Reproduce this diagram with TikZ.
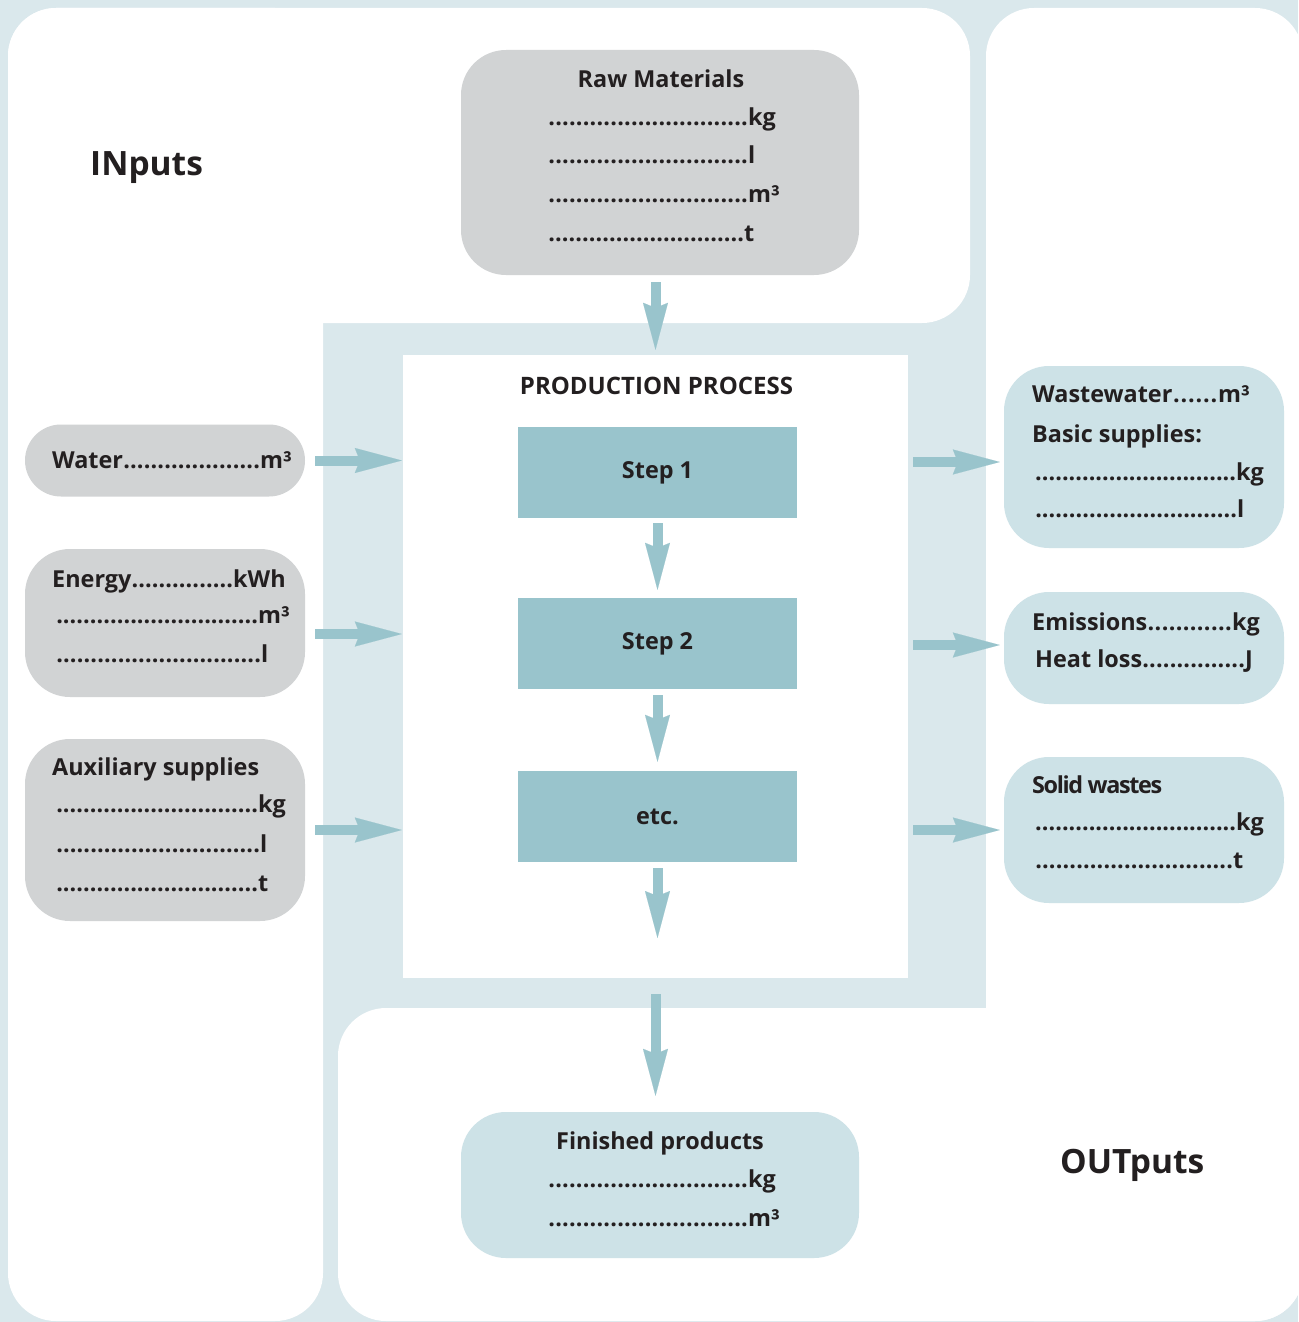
\documentclass[tikz,border=0pt]{standalone}
\usepackage{fontspec}
\setmainfont{Open Sans}
\usetikzlibrary{arrows.meta}
\definecolor{bgblue}{HTML}{DAE8EC}
\definecolor{greybox}{HTML}{D1D3D4}
\definecolor{outbox}{HTML}{CDE2E7}
\definecolor{stepblue}{HTML}{99C4CC}
\definecolor{ink}{HTML}{231F20}
\newcommand\lead[2]{\hbox to #1pt{#2\xleaders\hbox{.}\hfill}}
\tikzset{
  panel/.style={fill=white, rounded corners=48pt},
  gbox/.style={rectangle, fill=greybox, draw=none, inner sep=0pt},
  obox/.style={rectangle, fill=outbox, draw=none, inner sep=0pt},
  stepbox/.style={rectangle, fill=stepblue, draw=none, inner sep=0pt, minimum width=279pt, minimum height=91pt,
    font=\fontsize{23.4}{28}\selectfont\bfseries, text=ink},
  txt/.style={anchor=base west, inner sep=0pt, font=\fontsize{23.4}{28}\selectfont\bfseries, text=ink},
  ctxt/.style={txt, anchor=base},
  big/.style={anchor=base west, inner sep=0pt, font=\fontsize{33.5}{40}\selectfont\bfseries, text=ink},
  flow/.style={draw=stepblue, line width=10pt,
    -{Stealth[length=47pt, width=25pt, inset=5pt, line width=0.1pt]}}
}
\begin{document}
\begin{tikzpicture}[x=1pt, y=-1pt]
\useasboundingbox (0,0) rectangle (1298,1322);
\fill[bgblue] (0,0) rectangle (1298,1322);
% white panels
\fill[panel] (8,8) rectangle (970,323);
\fill[panel] (8,8) rectangle (323,1321);
\fill[panel] (986,8) rectangle (1303,1321);
\fill[panel] (338,1008) rectangle (1303,1321);

% process area
\node[rectangle, fill=white, draw=none, minimum width=505pt, minimum height=623pt, inner sep=0pt] (proc) at (655.5,666.5) {};
\node[stepbox] (s1) at (657.5,472.5) {Step 1};
\node[stepbox] (s2) at (657.5,643.5) {Step 2};
\node[stepbox] (s3) at (657.5,816.5) {etc.};
\coordinate (pend) at (657.5,938);

% input boxes
\node[gbox, minimum width=398pt, minimum height=225pt, rounded corners=45pt] (raw) at (660,162.5) {};
\node[gbox, minimum width=280pt, minimum height=72pt, rounded corners=36pt] (water) at (165,460.5) {};
\node[gbox, minimum width=280pt, minimum height=148pt, rounded corners=45pt] (energy) at (165,623) {};
\node[gbox, minimum width=280pt, minimum height=182pt, rounded corners=45pt] (aux) at (165,830) {};

% output boxes
\node[obox, minimum width=280pt, minimum height=182pt, rounded corners=45pt] (waste) at (1144,457) {};
\node[obox, minimum width=280pt, minimum height=112pt, rounded corners=45pt] (emis) at (1144,648) {};
\node[obox, minimum width=280pt, minimum height=146pt, rounded corners=45pt] (solid) at (1144,830) {};
\node[obox, minimum width=398pt, minimum height=146pt, rounded corners=45pt] (fin) at (660,1185) {};

% headings
\node[big] (inputs) at (90,175) {INputs};
\node[big] (outputs) at (1060,1173) {OUTputs};
\node[ctxt, font=\fontsize{24}{28}\selectfont\bfseries] (ptitle) at (656.5,394) {PRODUCTION PROCESS};

% raw materials
\node[ctxt] (rawT) at (661,88) {Raw Materials};
\node[txt] (raw1) at (548,125) {\lead{200}{}kg};
\node[txt] (raw2) at (548,163) {\lead{200}{}l};
\node[txt] (raw3) at (548,202) {\lead{200}{}m³};
\node[txt] (raw4) at (548,241) {\lead{196}{}t};

% water
\node[txt] (waterT) at (52,468) {\lead{208}{Water}m³};
% energy
\node[txt] (enT) at (52,587) {\lead{181}{Energy}kWh};
\node[txt] (en2) at (56,623) {\lead{202}{}m³};
\node[txt] (en3) at (56,662) {\lead{205}{}l};
% auxiliary
\node[txt] (auxT) at (52,775) {Auxiliary supplies};
\node[txt] (aux1) at (56,812) {\lead{202}{}kg};
\node[txt] (aux2) at (56,852) {\lead{204}{}l};
\node[txt] (aux3) at (56,891) {\lead{202}{}t};

% wastewater
\node[txt] (wT) at (1032,402) {\lead{186}{Wastewater}m³};
\node[txt] (w2) at (1032,442) {Basic supplies:};
\node[txt] (w3) at (1035,480) {\lead{201}{}kg};
\node[txt] (w4) at (1035,517) {\lead{202}{}l};
% emissions
\node[txt] (eT) at (1032,630) {\lead{200}{Emissions}kg};
\node[txt] (e2) at (1035,667) {\lead{210}{Heat loss}J};
% solid wastes
\node[txt] (sT) at (1032,793) {\addfontfeature{LetterSpace=-6}Solid wastes};
\node[txt] (s2t) at (1035,830) {\lead{201}{}kg};
\node[txt] (s3t) at (1035,868) {\lead{198}{}t};
% finished
\node[ctxt] (finT) at (660,1149) {Finished products};
\node[txt] (fin1) at (548,1187) {\lead{200}{}kg};
\node[txt] (fin2) at (548,1226) {\lead{200}{}m³};

% connectors
\draw[flow, shorten <=7pt, shorten >=5pt] (raw.south -| proc.north) -- (proc.north);
\draw[flow, shorten <=10pt, shorten >=1pt] (water.east) -- (water.east -| proc.west);
\coordinate (eo) at ([yshift=-11pt]energy.east);
\draw[flow, shorten <=10pt, shorten >=1pt] (eo) -- (eo -| proc.west);
\draw[flow, shorten <=10pt, shorten >=1pt] (aux.east) -- (aux.east -| proc.west);
\draw[flow, shorten <=5pt, shorten >=8pt] (s1.south) -- (s2.north);
\draw[flow, shorten <=6pt, shorten >=9pt] (s2.south) -- (s3.north);
\draw[flow, shorten <=6pt] (s3.south) -- (pend);
\draw[flow, shorten <=16pt, shorten >=16pt] (proc.south) -- (proc.south |- fin.north);
\coordinate (wi) at ([yshift=-5pt]waste.west);
\draw[flow, shorten <=5pt, shorten >=4pt] (wi -| proc.east) -- (wi);
\coordinate (ei) at ([yshift=3pt]emis.west);
\draw[flow, shorten <=5pt, shorten >=4pt] (ei -| proc.east) -- (ei);
\draw[flow, shorten <=5pt, shorten >=4pt] (solid.west -| proc.east) -- (solid.west);
\end{tikzpicture}
\end{document}
